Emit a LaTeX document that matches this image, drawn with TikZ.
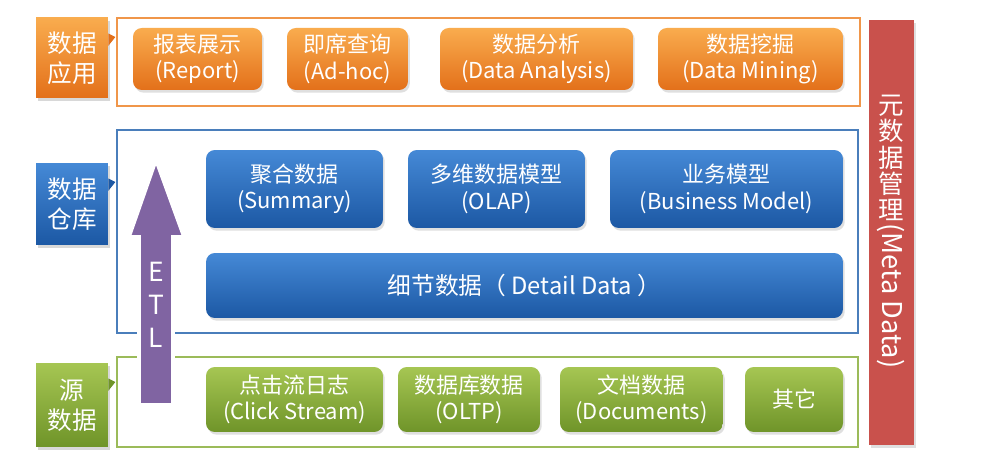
\documentclass[tikz,border=0pt]{standalone}
\usepackage{fontspec}
\setmainfont{Noto Sans CJK SC}
\usetikzlibrary{shadows}

\definecolor{apptop}{HTML}{F9AC4E}
\definecolor{appbot}{HTML}{E3701A}
\definecolor{appline}{HTML}{F0964A}
\definecolor{dwtop}{HTML}{4589D6}
\definecolor{dwbot}{HTML}{1C58A4}
\definecolor{dwline}{HTML}{4A7EBB}
\definecolor{srctop}{HTML}{A6C653}
\definecolor{srcbot}{HTML}{6F9429}
\definecolor{srcline}{HTML}{9BBB59}
\definecolor{etlfill}{HTML}{8064A2}
\definecolor{metafill}{HTML}{C9514C}

\tikzset{
  box/.style={rounded corners=5pt, text=white, align=center, inner sep=0pt,
    font=\fontsize{12.5}{15}\selectfont,
    drop shadow={opacity=0.25, shadow xshift=1pt, shadow yshift=-1.5pt}},
  appbox/.style={box, top color=apptop, bottom color=appbot, minimum height=1.24cm},
  dwbox/.style={box, top color=dwtop, bottom color=dwbot, minimum height=1.56cm},
  srcbox/.style={box, top color=srctop, bottom color=srcbot, minimum height=1.3cm},
  tag/.style={text=white, align=center, inner sep=0pt, minimum width=1.44cm,
    font=\fontsize{14}{17}\selectfont,
    drop shadow={opacity=0.3, shadow xshift=1pt, shadow yshift=-1.5pt}},
  frame/.style={line width=1.1pt},
}

\begin{document}
\begin{tikzpicture}[x=0.02cm,y=-0.02cm]
  \useasboundingbox[fill=white] (0,0) rectangle (987,475);

  % Layer frames.
  \draw[frame, appline] (117,18) rectangle (860,106);
  \draw[frame, dwline] (117,130) rectangle (858,333);
  \draw[frame, srcline] (117,357) rectangle (858,447);

  % Layer tags on the left.
  \node[tag, top color=apptop, bottom color=appbot, minimum height=1.6cm] (apptag) at (72,58) {数据\\应用};
  \fill[appbot] ([yshift=-9pt]apptag.north east) -- ++(4pt,-2pt) -- ++(-4pt,-5pt) -- cycle;
  \node[tag, top color=dwtop, bottom color=dwbot, minimum height=1.64cm] (dwtag) at (72,204) {数据\\仓库};
  \fill[dwbot] ([yshift=-9pt]dwtag.north east) -- ++(4pt,-2pt) -- ++(-4pt,-5pt) -- cycle;
  \node[tag, top color=srctop, bottom color=srcbot, minimum height=1.68cm] (srctag) at (72,405) {源\\数据};
  \fill[srcbot] ([yshift=-9pt]srctag.north east) -- ++(4pt,-2pt) -- ++(-4pt,-5pt) -- cycle;

  % Application layer.
  \node[appbox, minimum width=2.58cm] (report) at (197.5,59) {报表展示\\(Report)};
  \node[appbox, minimum width=2.42cm] (adhoc) at (347.5,59) {即席查询\\(Ad-hoc)};
  \node[appbox, minimum width=3.86cm] (analysis) at (536.5,59) {数据分析\\(Data Analysis)};
  \node[appbox, minimum width=3.7cm] (mining) at (750.5,59) {数据挖掘\\(Data Mining)};

  % Warehouse layer.
  \node[dwbox, minimum width=3.54cm] (summary) at (294.5,189) {聚合数据\\(Summary)};
  \node[dwbox, minimum width=3.54cm] (olap) at (496.5,189) {多维数据模型\\(OLAP)};
  \node[dwbox, minimum width=4.66cm] (business) at (726.5,189) {业务模型\\(Business Model)};
  \node[dwbox, minimum width=12.74cm, minimum height=1.3cm, font=\fontsize{13.5}{16}\selectfont] (detail) at (524.5,285.5) {细节数据（ Detail Data ）};

  % Source layer.
  \node[srcbox, minimum width=3.54cm] (click) at (294.5,399.5) {点击流日志\\(Click Stream)};
  \node[srcbox, minimum width=2.84cm] (oltp) at (469,399.5) {数据库数据\\(OLTP)};
  \node[srcbox, minimum width=3.26cm] (docs) at (641.5,399.5) {文档数据\\(Documents)};
  \node[srcbox, minimum width=1.96cm] (other) at (794,399.5) {其它};

  % ETL arrow.
  \filldraw[fill=etlfill, draw=white, line width=2pt, line join=miter]
    (139,405) -- (139,237) -- (129,237) -- (156,160) -- (184,237) -- (173,237) -- (173,405) -- cycle;
  \node[text=white, align=center, font=\fontsize{15}{18.7}\selectfont] (etl) at (156,305) {E\\T\\L};

  % Metadata bar.
  \fill[metafill, drop shadow={opacity=0.25, shadow xshift=1pt, shadow yshift=-1.5pt}] (869,20) rectangle (914,445);
  \node[text=white, align=center, inner sep=0pt, font=\fontsize{14.5}{15}\selectfont] (metazh) at (891,158) {元\\数\\据\\管\\理};
  \node[text=white, inner sep=0pt, rotate=-90, anchor=west, font=\fontsize{15.5}{18}\selectfont] (metaen) at ([yshift=-1pt]metazh.south) {(Meta Data)};
\end{tikzpicture}
\end{document}
